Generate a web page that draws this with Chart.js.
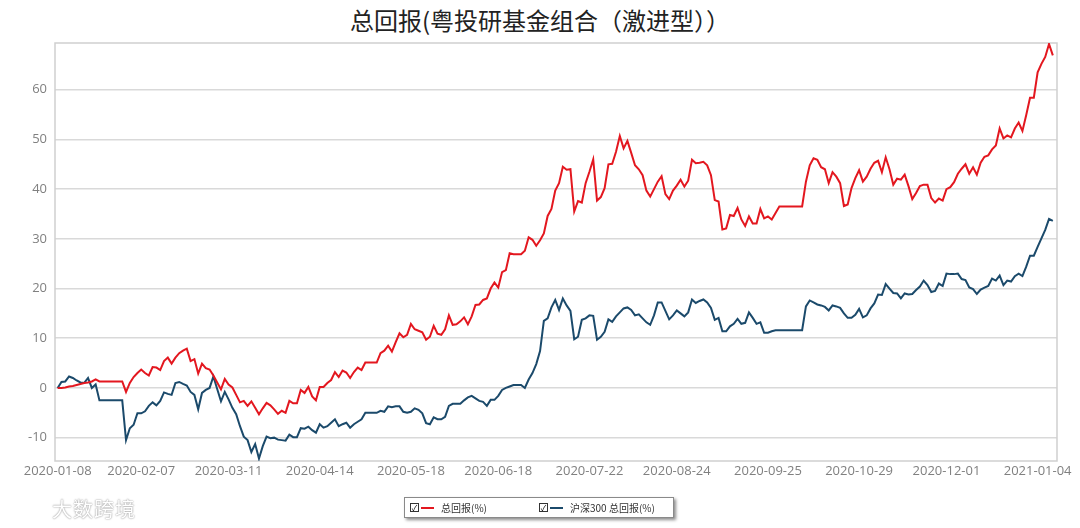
<!DOCTYPE html>
<html>
<head>
<meta charset="utf-8">
<script src="https://cdn.jsdelivr.net/npm/chart.js@4"></script>
<style>
body { margin: 0; background: #fff; width: 1080px; height: 528px; overflow: hidden; position: relative; font-family: "Noto Sans CJK SC", "Open Sans", sans-serif; }
#title { position: absolute; top: 4px; left: 0; width: 1080px; text-align: center; font-size: 24px; line-height: 32px; color: #222; }
#chart { position: absolute; left: 0; top: 0; }
#legend { position: absolute; left: 404px; top: 497px; width: 268px; height: 19px; border: 1px solid #8a8a8a; background: #fff; box-shadow: 2px 2px 3px rgba(0,0,0,0.45); font-size: 10px; color: #333; }
.item { position: absolute; top: 0; height: 19px; line-height: 19px; white-space: nowrap; }
.box { position: absolute; top: 5px; left: 0; width: 7px; height: 7px; border: 1px solid #333; font-size: 8px; line-height: 7px; text-align: center; color: #000; }
.swatch { position: absolute; top: 9px; left: 11px; width: 13px; height: 2px; }
.label { position: absolute; left: 31px; top: 0; }
#mark { position: absolute; left: 52px; top: 494px; font-size: 20px; color: #fff; text-shadow: 0 0 2px #999, 0 0 1px #aaa; letter-spacing: 1px; }
</style>
</head>
<body>
<div id="title">总回报(粤投研基金组合（激进型））</div>
<canvas id="chart" width="1080" height="528"></canvas>
<div id="legend"></div>
<div id="mark">大数跨境</div>
<script>
// 每个工作日一个点, 从 2020-01-08 开始
let tickIdx = [0, 22, 45, 69, 93, 116, 140, 163, 187, 211, 234, 258];
let tickLabels = ["2020-01-08", "2020-02-07", "2020-03-11", "2020-04-14", "2020-05-18", "2020-06-18",
    "2020-07-22", "2020-08-24", "2020-09-25", "2020-10-29", "2020-12-01", "2021-01-04"];
let yTicks = [-10, 0, 10, 20, 30, 40, 50, 60];

let fundReturn = [
    0, 0, 0.1, 0.3, 0.4, 0.6, 0.8, 1.0, 1.1, 1.3,
    1.7, 1.3, 1.3, 1.3, 1.3, 1.3, 1.3, 1.3, -0.8, 1.0,
    2.2, 3.0, 3.7, 3.0, 2.5, 4.2, 4.1, 3.6, 5.4, 6.1,
    4.9, 6.1, 7.0, 7.5, 7.9, 5.4, 5.8, 2.9, 4.9, 4.0,
    3.7, 2.5, 1.1, -0.3, 1.8, 0.7, 0.1, -1.4, -2.9, -2.6,
    -3.6, -2.7, -4.0, -5.3, -4.1, -3.0, -3.5, -4.3, -5.2, -4.6,
    -5.0, -2.6, -3.1, -3.1, -0.4, -1.0, 0.2, -1.7, -2.5, 0.2,
    0.2, 1.0, 1.6, 3.2, 2.2, 3.5, 3.1, 2.0, 3.2, 4.1,
    3.6, 5.1, 5.1, 5.1, 5.1, 7.0, 7.5, 8.5, 7.3, 9.2,
    11.0, 10.2, 10.7, 12.9, 11.8, 11.5, 11.2, 9.7, 10.3, 12.5,
    10.9, 10.7, 11.8, 14.6, 12.7, 12.8, 13.4, 14.2, 12.8, 14.4,
    16.7, 16.8, 17.7, 18.0, 20.0, 21.2, 20.2, 23.3, 23.7, 27.1,
    26.9, 26.9, 26.9, 27.6, 30.3, 29.8, 28.6, 29.7, 31.1, 34.6,
    36.0, 39.7, 41.2, 44.5, 43.9, 44.0, 35.5, 37.6, 37.3, 41.2,
    43.5, 46.0, 37.7, 38.4, 40.2, 45.0, 45.1, 47.5, 50.7, 48.2,
    49.7, 47.3, 44.8, 44.0, 42.8, 39.7, 38.5, 40.0, 41.5, 42.6,
    39.0, 38.0, 39.7, 40.7, 41.9, 40.5, 41.7, 45.9, 45.2, 45.3,
    45.5, 44.8, 42.8, 37.8, 37.5, 31.9, 32.1, 34.8, 34.6, 36.2,
    33.9, 32.6, 34.5, 33.1, 33.1, 36.0, 34.1, 34.5, 33.9, 35.2,
    36.5, 36.5, 36.5, 36.5, 36.5, 36.5, 36.5, 41.5, 44.8, 46.2,
    45.9, 44.4, 44.0, 41.2, 43.4, 42.5, 41.2, 36.6, 36.9, 40.2,
    42.2, 43.8, 41.5, 42.5, 44.1, 45.3, 45.7, 43.4, 46.4, 44.0,
    40.9, 42.1, 41.9, 42.9, 40.6, 38.0, 39.2, 40.6, 40.9, 40.9,
    38.2, 37.3, 38.1, 37.7, 40.0, 40.4, 41.4, 43.1, 44.1, 45.0,
    43.1, 44.4, 42.9, 45.3, 46.5, 46.8, 48.0, 48.8, 52.2, 50.2,
    50.8, 50.4, 52.2, 53.4, 51.7, 54.9, 58.4, 58.4, 63.5, 65.2,
    66.6, 69.2, 66.9
];

let hs300Return = [
    0, 1.2, 1.3, 2.3, 2.0, 1.5, 1.1, 1.0, 2.0, 0,
    0.7, -2.5, -2.5, -2.5, -2.5, -2.5, -2.5, -2.5, -10.5, -8.1,
    -7.4, -5.1, -5.1, -4.7, -3.6, -2.9, -3.5, -2.6, -0.9, -1.2,
    -1.4, 1.0, 1.2, 0.8, 0.5, -0.8, -1.4, -4.3, -1.0, -0.4,
    0, 2.3, -0.2, -2.7, -0.8, -2.3, -4.0, -5.3, -7.7, -9.8,
    -10.5, -12.9, -11.3, -14.2, -11.7, -9.8, -10.1, -10.0, -10.4, -10.5,
    -10.6, -9.4, -9.9, -9.9, -8.1, -8.2, -7.8, -8.5, -9.0, -7.3,
    -8.0, -7.7, -7.0, -6.3, -7.7, -7.3, -7.0, -8.0, -7.3, -6.8,
    -6.3, -5.0, -5.0, -5.0, -5.0, -4.6, -4.8, -3.7, -3.9, -3.7,
    -3.7, -4.8, -5.0, -4.8, -4.1, -4.4, -5.1, -7.1, -7.3, -5.9,
    -6.3, -6.3, -5.8, -3.6, -3.2, -3.2, -3.2, -2.5, -1.9, -1.6,
    -2.1, -2.6, -2.8, -3.6, -2.4, -2.4, -1.6, -0.4, 0, 0.3,
    0.6, 0.6, 0.6, 0, 1.7, 3.0, 4.8, 7.4, 13.5, 14.0,
    16.2, 17.7, 15.7, 18.0, 16.6, 15.5, 9.8, 10.3, 13.7, 14.0,
    14.6, 14.5, 9.7, 10.3, 11.3, 13.8, 13.3, 14.4, 15.2, 16.0,
    16.2, 15.7, 14.6, 14.8, 14.0, 13.2, 12.7, 14.6, 17.2, 17.2,
    15.5, 13.8, 14.6, 15.6, 15.0, 14.4, 15.2, 17.8, 17.1, 17.5,
    17.8, 17.2, 16.1, 13.7, 14.1, 11.4, 11.4, 12.4, 12.9, 13.9,
    12.9, 13.1, 15.2, 14.1, 12.9, 13.2, 11.1, 11.1, 11.4, 11.6,
    11.6, 11.6, 11.6, 11.6, 11.6, 11.6, 11.6, 16.4, 17.6, 17.2,
    16.8, 16.6, 16.3, 15.6, 16.6, 16.4, 16.1, 15.0, 14.1, 14.1,
    14.7, 15.9, 14.2, 14.6, 16.0, 17.0, 18.8, 18.7, 20.9, 20.0,
    19.1, 19.0, 18.0, 19.0, 18.8, 18.9, 19.7, 20.4, 21.6, 20.7,
    19.3, 19.5, 21.0, 20.5, 23.0, 22.9, 22.9, 23.0, 21.9, 21.7,
    20.2, 19.9, 18.9, 19.8, 20.2, 20.5, 22.0, 21.6, 22.6, 20.7,
    21.6, 21.4, 22.5, 23.0, 22.5, 24.4, 26.6, 26.6, 28.4, 30.1,
    31.8, 34.0, 33.6
];

let seriesNames = ["总回报(%)", "沪深300 总回报(%)"];
let seriesColors = ["#e3171f", "#1b4a6b"];

// plot area frame (all four sides)
const framePlugin = {
    id: "frame",
    beforeDatasetsDraw(chart) {
        let a = chart.chartArea;
        let ctx = chart.ctx;
        ctx.save();
        ctx.strokeStyle = "#cfcfcf";
        ctx.lineWidth = 1.5;
        ctx.strokeRect(a.left, a.top, a.right - a.left, a.bottom - a.top);
        ctx.restore();
    }
};

let tickFont = { family: "'Open Sans', sans-serif", size: 13 };

let chart = new Chart(document.getElementById("chart").getContext("2d"), {
    type: "line",
    data: {
        datasets: [fundReturn, hs300Return].map((vals, k) => ({
            label: seriesNames[k],
            data: vals.map((v, i) => ({ x: i, y: v })),
            borderColor: seriesColors[k],
            backgroundColor: seriesColors[k],
            borderWidth: 2,
            pointRadius: 0,
            tension: 0,
            fill: false
        }))
    },
    options: {
        responsive: false,
        animation: false,
        layout: { padding: { left: 0, right: 23, top: 43, bottom: 45 } },
        plugins: {
            legend: { display: false },
            tooltip: { enabled: false }
        },
        scales: {
            x: {
                type: "linear",
                min: -0.7,
                max: 263.1,
                grid: { display: false, drawTicks: false },
                border: { display: false },
                afterBuildTicks: s => { s.ticks = tickIdx.map(v => ({ value: v })); },
                afterFit: s => { s.height = 22; },
                ticks: {
                    autoSkip: false,
                    maxRotation: 0,
                    padding: 2,
                    color: "#808080",
                    font: tickFont,
                    callback: v => tickLabels[tickIdx.indexOf(v)] || ""
                }
            },
            y: {
                min: -14.7,
                max: 69.4,
                grid: { color: "#d9d9d9", lineWidth: 1.5, drawTicks: false },
                border: { display: false },
                afterBuildTicks: s => { s.ticks = yTicks.map(v => ({ value: v })); },
                afterFit: s => { s.width = 55; },
                ticks: { padding: 8, color: "#808080", font: tickFont }
            }
        }
    },
    plugins: [framePlugin]
});

// legend with check boxes, built from the datasets
let legend = document.getElementById("legend");
let itemLeft = [5, 134];
chart.data.datasets.forEach((ds, k) => {
    let item = document.createElement("div");
    item.className = "item";
    item.style.left = itemLeft[k] + "px";
    item.innerHTML = '<span class="box">✓</span><span class="swatch" style="background:' + ds.borderColor +
        '"></span><span class="label">' + ds.label + '</span>';
    legend.appendChild(item);
});
</script>
</body>
</html>
